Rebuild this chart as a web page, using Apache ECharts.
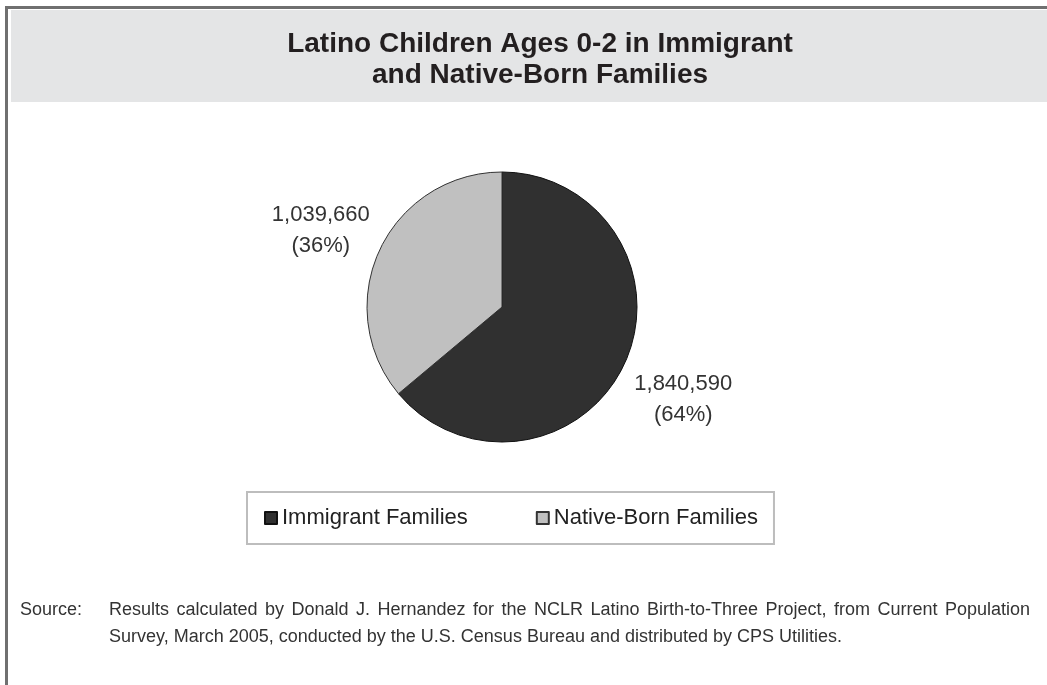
<!DOCTYPE html>
<html>
<head>
<meta charset="utf-8">
<script src="https://cdn.jsdelivr.net/npm/echarts@6/dist/echarts.min.js"></script>
<style>
  html, body { margin: 0; padding: 0; background: #ffffff; }
  #chart { width: 1047px; height: 685px; }
</style>
</head>
<body>
<div id="chart"></div>
<script>
// Family type and number of Latino children ages 0-2
const categories = ['Immigrant Families', 'Native-Born Families'];
const counts = [1840590, 1039660];
const sliceColors = ['#303030', '#c0c0c0'];
const sliceBorders = ['#111111', '#333333'];

const titleLines = [
  'Latino Children Ages 0-2 in Immigrant',
  'and Native-Born Families'
];
const sourceLabel = 'Source:';
const sourceLines = [
  'Results calculated by Donald J. Hernandez for the NCLR Latino Birth-to-Three Project, from Current Population',
  'Survey, March 2005, conducted by the U.S. Census Bureau and distributed by CPS Utilities.'
];

// pie geometry (pixels)
const PIE_CX = 502, PIE_CY = 307, PIE_R = 135;
const LABEL_DIST = 200, LABEL_DROP = 8;

const total = counts.reduce((a, b) => a + b, 0);
// slices run clockwise from 12 o'clock; returns mid-angle in degrees (ccw from +x)
function midAngle(i) {
  let before = 0;
  for (let k = 0; k < i; k++) before += counts[k];
  return 90 - (before + counts[i] / 2) / total * 360;
}

// source note: first line is justified between the indent and the right margin
const NOTE_FONT = '18px "Liberation Sans", Arial, sans-serif';
const NOTE_LEFT = 109, NOTE_RIGHT = 1030, NOTE_TOP = 601, NOTE_LINE = 27;
const measureCtx = document.createElement('canvas').getContext('2d');
measureCtx.font = NOTE_FONT;

function justifiedLine(text, x0, x1, y) {
  const words = text.split(' ');
  const widths = words.map(w => measureCtx.measureText(w).width);
  const used = widths.reduce((a, b) => a + b, 0);
  const gap = (x1 - x0 - used) / (words.length - 1);
  const els = [];
  let x = x0;
  words.forEach((w, i) => {
    els.push({
      type: 'text', z: 2, x: x, y: y,
      style: { text: w, font: NOTE_FONT, fill: '#333333', textAlign: 'left', textVerticalAlign: 'top' }
    });
    x += widths[i] + gap;
  });
  return els;
}

const noteGraphics = [
  {
    type: 'text', z: 2, x: 20, y: NOTE_TOP,
    style: { text: sourceLabel, font: NOTE_FONT, fill: '#333333', textAlign: 'left', textVerticalAlign: 'top' }
  },
  ...justifiedLine(sourceLines[0], NOTE_LEFT, NOTE_RIGHT, NOTE_TOP),
  {
    type: 'text', z: 2, x: NOTE_LEFT, y: NOTE_TOP + NOTE_LINE,
    style: { text: sourceLines[1], font: NOTE_FONT, fill: '#333333', textAlign: 'left', textVerticalAlign: 'top' }
  }
];

const chart = echarts.init(document.getElementById('chart'), null, { renderer: 'canvas' });

const option = {
  backgroundColor: '#ffffff',
  animation: false,
  graphic: [
    { type: 'rect', z: 0, shape: { x: 11, y: 10, width: 1036, height: 92 }, style: { fill: '#e4e5e6' } },
    { type: 'rect', z: 1, shape: { x: 5, y: 6, width: 1042, height: 3 }, style: { fill: '#707070' } },
    { type: 'rect', z: 1, shape: { x: 5, y: 6, width: 3, height: 679 }, style: { fill: '#707070' } },
    {
      type: 'text', z: 2, x: 540, y: 29,
      style: {
        text: titleLines.join('\n'),
        font: 'bold 28px "Liberation Sans", Arial, sans-serif',
        fill: '#231f20', textAlign: 'center', textVerticalAlign: 'top', lineHeight: 31
      }
    },
    ...noteGraphics
  ],
  legend: {
    data: categories,
    left: 247,
    top: 492,
    orient: 'horizontal',
    icon: 'rect',
    itemWidth: 12,
    itemHeight: 12,
    itemGap: 68,
    padding: [15, 16, 15, 17],
    borderColor: '#bdbdbd',
    borderWidth: 2,
    textStyle: {
      fontFamily: '"Liberation Sans", Arial, sans-serif',
      fontSize: 22,
      color: '#222222'
    }
  },
  series: [{
    type: 'pie',
    center: [PIE_CX, PIE_CY],
    radius: PIE_R,
    startAngle: 90,
    clockwise: true,
    avoidLabelOverlap: false,
    data: categories.map((name, i) => ({
      name: name,
      value: counts[i],
      itemStyle: { color: sliceColors[i], borderColor: sliceBorders[i], borderWidth: 1 }
    })),
    label: {
      show: true,
      position: 'outside',
      formatter: p => p.value.toLocaleString('en-US') + '\n(' + Math.round(p.percent) + '%)',
      fontFamily: '"Liberation Sans", Arial, sans-serif',
      fontSize: 22,
      lineHeight: 31,
      color: '#333333'
    },
    labelLine: { show: false },
    labelLayout: function (p) {
      const a = midAngle(p.dataIndex) * Math.PI / 180;
      return {
        x: PIE_CX + LABEL_DIST * Math.cos(a),
        y: PIE_CY - LABEL_DIST * Math.sin(a) + LABEL_DROP,
        align: 'center',
        verticalAlign: 'middle'
      };
    },
    emphasis: { disabled: true }
  }]
};

chart.setOption(option);
</script>
</body>
</html>
